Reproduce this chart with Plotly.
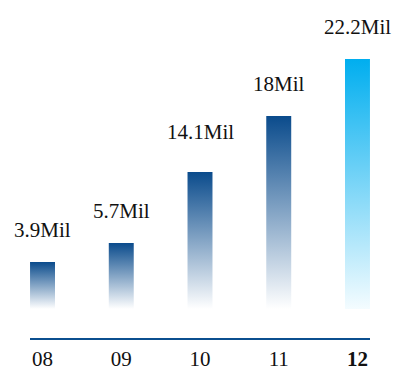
import plotly.graph_objects as go

# Data
years = ["08", "09", "10", "11", "12"]
value_labels = ["3.9Mil", "5.7Mil", "14.1Mil", "18Mil", "22.2Mil"]
bar_heights = [4.17, 5.86, 12.17, 17.14, 22.2]   # drawn bar heights (Mil)

# Styles
top_colors = ["#0a4b8c", "#0a4b8c", "#0a4b8c", "#0a4b8c", "#00aeef"]
bottom_colors = ["#ffffff", "#ffffff", "#ffffff", "#ffffff", "#f4fcff"]
label_shift = [18, 18, 26, 18, 18]
bar_width = 0.317
serif = "Liberation Serif, Times New Roman, serif"

fig = go.Figure()
for i, h in enumerate(bar_heights):
    x0, x1 = i - bar_width / 2, i + bar_width / 2
    fig.add_trace(go.Scatter(
        x=[x0, x1, x1, x0, x0], y=[0, 0, h, h, 0],
        mode="lines", line=dict(width=0, color="rgba(0,0,0,0)"),
        fill="toself",
        fillgradient=dict(type="vertical",
                          colorscale=[[0, bottom_colors[i]], [1, top_colors[i]]]),
        hoverinfo="skip", showlegend=False,
    ))
    fig.add_annotation(x=i, y=h, text=value_labels[i], showarrow=False,
                       xanchor="center", yanchor="bottom", yshift=label_shift[i],
                       font=dict(family=serif, size=21, color="#111111"))

ticktext = [f"<b>{y}</b>" if j == len(years) - 1 else y for j, y in enumerate(years)]

fig.update_layout(
    width=395, height=374,
    margin=dict(l=30, r=25, t=10, b=36, autoexpand=False),
    paper_bgcolor="white", plot_bgcolor="white",
    xaxis=dict(range=[-0.159, 4.159], tickmode="array",
               tickvals=list(range(len(years))), ticktext=ticktext,
               showline=True, linecolor="#0b4f8f", linewidth=2,
               showgrid=False, zeroline=False, automargin=False,
               ticks="outside", ticklen=1, tickcolor="rgba(0,0,0,0)",
               tickfont=dict(family=serif, size=21, color="#111111"),
               fixedrange=True),
    yaxis=dict(range=[-2.58, 26.55], visible=False, fixedrange=True),
)

fig.write_html("out.html", config={"displayModeBar": False},
               post_script="document.body.style.margin='0px';")
